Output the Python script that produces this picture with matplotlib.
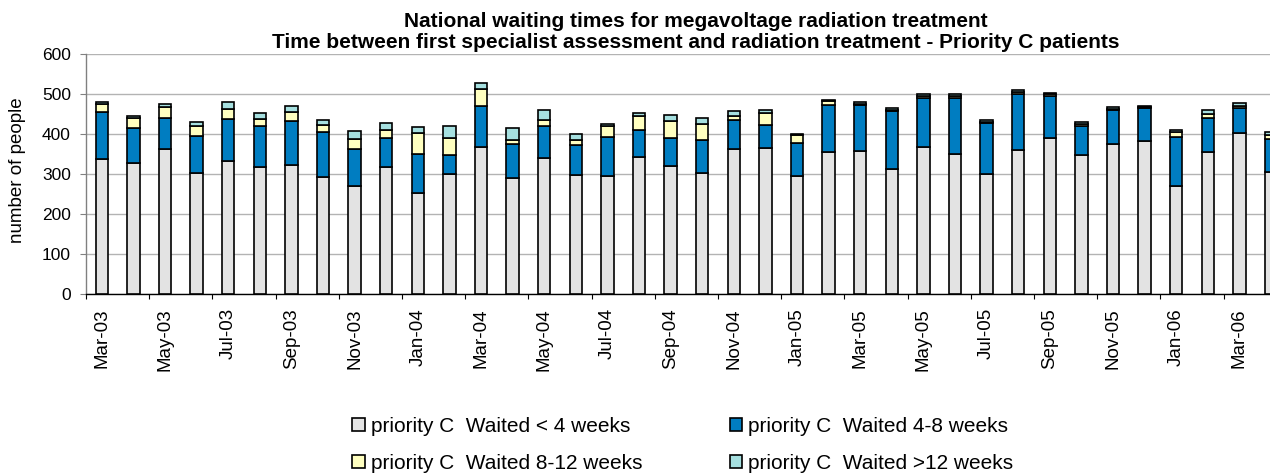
import matplotlib
matplotlib.use("Agg")
import matplotlib.pyplot as plt
import numpy as np
from matplotlib.patches import Patch

plt.rcParams['font.family'] = ['Liberation Sans', 'DejaVu Sans']

months = ["Mar-03", "Apr-03", "May-03", "Jun-03", "Jul-03", "Aug-03", "Sep-03", "Oct-03",
          "Nov-03", "Dec-03", "Jan-04", "Feb-04", "Mar-04", "Apr-04", "May-04", "Jun-04",
          "Jul-04", "Aug-04", "Sep-04", "Oct-04", "Nov-04", "Dec-04", "Jan-05", "Feb-05",
          "Mar-05", "Apr-05", "May-05", "Jun-05", "Jul-05", "Aug-05", "Sep-05", "Oct-05",
          "Nov-05", "Dec-05", "Jan-06", "Feb-06", "Mar-06", "Apr-06"]

waited_lt4 = [339, 327, 364, 304, 334, 319, 324, 292, 271, 319, 252, 300, 369, 290, 340, 298,
              296, 344, 321, 304, 364, 365, 296, 355, 359, 314, 368, 350, 301, 361, 391, 347,
              375, 383, 270, 356, 402, 305]
waited_4_8 = [115, 89, 76, 91, 104, 102, 109, 112, 92, 72, 99, 49, 102, 86, 81, 75,
              96, 66, 70, 82, 72, 57, 82, 117, 113, 143, 121, 139, 126, 138, 103, 73,
              84, 82, 124, 83, 62, 83]
waited_8_12 = [20, 24, 28, 26, 25, 17, 21, 18, 25, 20, 51, 41, 42, 10, 15, 12,
               27, 36, 41, 40, 8, 31, 21, 10, 4, 4, 6, 6, 4, 6, 5, 6,
               4, 2, 10, 12, 7, 9]
waited_gt12 = [5, 5, 7, 10, 17, 14, 17, 14, 19, 16, 15, 30, 15, 30, 25, 16,
               6, 6, 16, 15, 13, 8, 1, 2, 3, 3, 6, 6, 3, 5, 4, 5,
               4, 2, 5, 10, 6, 8]

series_names = ["priority C  Waited < 4 weeks", "priority C  Waited 4-8 weeks",
                "priority C  Waited 8-12 weeks", "priority C  Waited >12 weeks"]
series_values = [waited_lt4, waited_4_8, waited_8_12, waited_gt12]
colors = ["#E3E3E3", "#007DC1", "#FFFFC0", "#A6E0E0"]

title_lines = ["National waiting times for megavoltage radiation treatment",
               "Time between first specialist assessment and radiation treatment - Priority C patients"]
y_label = "number of people"

W, H = 1270, 473
fig = plt.figure(figsize=(W / 100, H / 100), dpi=100)

ax_left = 86 / W
ax_bottom = (H - 294.3) / H
ax_height = (294.3 - 54) / H
ax_width = 38 * 31.6 / W
ax = fig.add_axes([ax_left, ax_bottom, ax_width, ax_height])

x = np.arange(len(months))
bottom = np.zeros(len(months))
for name, vals, col in zip(series_names, series_values, colors):
    vals = np.array(vals, dtype=float)
    ax.bar(x, vals, width=0.39, bottom=bottom, color=col, edgecolor="black",
           linewidth=1.2, label=name, zorder=3)
    bottom += vals

ax.set_xlim(-0.5, len(months) - 0.5)
ax.set_ylim(0, 600)
ax.set_yticks(np.arange(0, 601, 100))
ax.yaxis.grid(True, color="#B3B3B3", linewidth=1.0, zorder=0)
ax.set_axisbelow(True)

for s in ["top", "right"]:
    ax.spines[s].set_visible(False)
ax.spines["left"].set_color("#808080")
ax.spines["left"].set_linewidth(1.0)
ax.spines["bottom"].set_color("black")
ax.spines["bottom"].set_linewidth(1.0)

ax.tick_params(axis="y", direction="out", length=4.3, width=0.8, color="#808080",
               labelsize=12.5, pad=6.5)
ax.set_xticks(x[::2])
ax.set_xticklabels(months[::2], rotation=90, fontsize=13.5)
ax.set_xticks(np.arange(-0.5, len(months), 2), minor=True)
ax.tick_params(axis="x", which="major", length=0, pad=10)
ax.tick_params(axis="x", which="minor", direction="out", length=3.8, width=0.8, color="black")

fig.text(18 / W, 1 - 170 / H, y_label, rotation=90, ha="center", va="center", fontsize=13.5)

fig.text(696 / W, 1 - 21 / H, title_lines[0], ha="center", va="center",
         fontsize=15, fontweight="bold")
fig.text(696 / W, 1 - 43 / H, title_lines[1], ha="center", va="center",
         fontsize=15, fontweight="bold")

# legend: row 1 = <4, 4-8 ; row 2 = 8-12, >12 (matplotlib fills column-wise)
order = [0, 2, 1, 3]
handles = [Patch(facecolor=colors[i], edgecolor="black", linewidth=1.2) for i in order]
labels = [series_names[i] for i in order]
fig.legend(handles, labels, loc="upper left", bbox_to_anchor=(352 / W, 1 - 417 / H),
           ncol=2, frameon=False, fontsize=15, handlelength=0.6, handleheight=0.6,
           handletextpad=0.3, columnspacing=4.2, labelspacing=0.85, borderpad=0,
           borderaxespad=0)

fig.savefig("out.png", dpi=100)
